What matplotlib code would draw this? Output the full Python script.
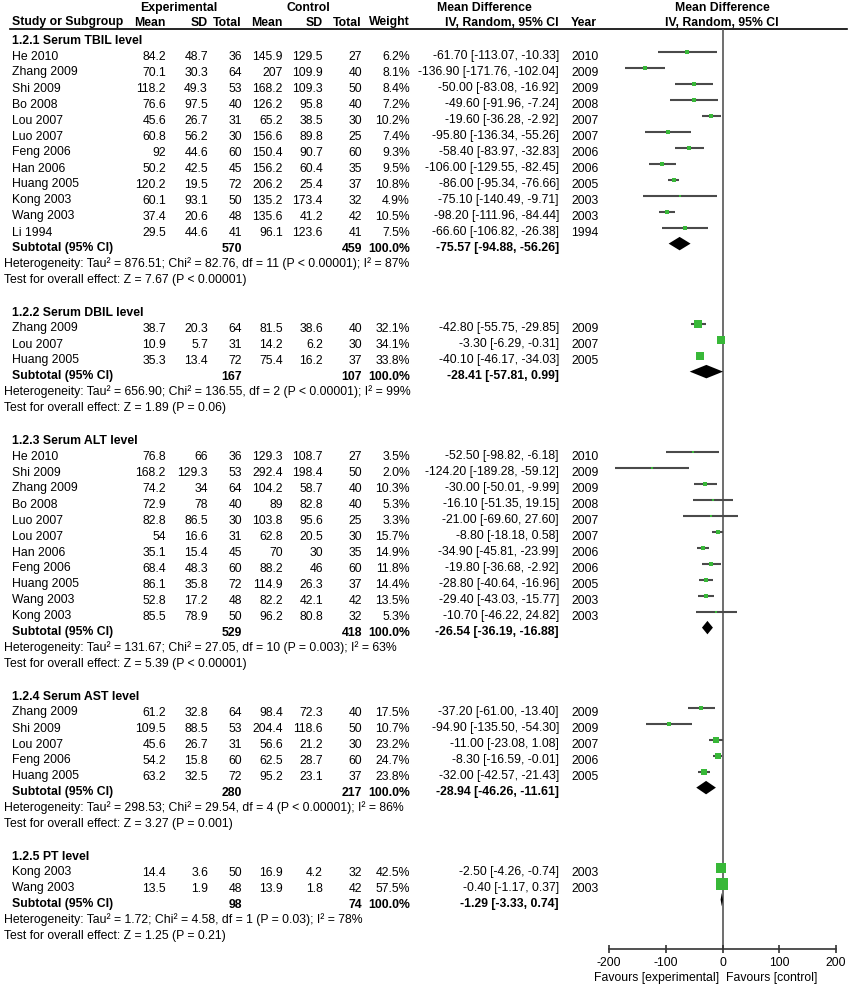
import matplotlib
matplotlib.use('Agg')
import matplotlib.pyplot as plt

plt.rcParams['font.family'] = ['Liberation Sans', 'DejaVu Sans']
plt.rcParams['font.size'] = 8.8
plt.rcParams['axes.unicode_minus'] = False

# ---- data -------------------------------------------------------------
group_titles = ['1.2.1 Serum TBIL level', '1.2.2 Serum DBIL level', '1.2.3 Serum ALT level',
                '1.2.4 Serum AST level', '1.2.5 PT level']
group = [0]*12 + [1]*3 + [2]*11 + [3]*5 + [4]*2
study = ['He 2010', 'Zhang 2009', 'Shi 2009', 'Bo 2008', 'Lou 2007', 'Luo 2007', 'Feng 2006',
         'Han 2006', 'Huang 2005', 'Kong 2003', 'Wang 2003', 'Li 1994',
         'Zhang 2009', 'Lou 2007', 'Huang 2005',
         'He 2010', 'Shi 2009', 'Zhang 2009', 'Bo 2008', 'Luo 2007', 'Lou 2007', 'Han 2006',
         'Feng 2006', 'Huang 2005', 'Wang 2003', 'Kong 2003',
         'Zhang 2009', 'Shi 2009', 'Lou 2007', 'Feng 2006', 'Huang 2005',
         'Kong 2003', 'Wang 2003']
exp_mean = [84.2, 70.1, 118.2, 76.6, 45.6, 60.8, 92, 50.2, 120.2, 60.1, 37.4, 29.5,
            38.7, 10.9, 35.3,
            76.8, 168.2, 74.2, 72.9, 82.8, 54, 35.1, 68.4, 86.1, 52.8, 85.5,
            61.2, 109.5, 45.6, 54.2, 63.2,
            14.4, 13.5]
exp_sd = [48.7, 30.3, 49.3, 97.5, 26.7, 56.2, 44.6, 42.5, 19.5, 93.1, 20.6, 44.6,
          20.3, 5.7, 13.4,
          66, 129.3, 34, 78, 86.5, 16.6, 15.4, 48.3, 35.8, 17.2, 78.9,
          32.8, 88.5, 26.7, 15.8, 32.5,
          3.6, 1.9]
exp_n = [36, 64, 53, 40, 31, 30, 60, 45, 72, 50, 48, 41,
         64, 31, 72,
         36, 53, 64, 40, 30, 31, 45, 60, 72, 48, 50,
         64, 53, 31, 60, 72,
         50, 48]
ctl_mean = [145.9, 207, 168.2, 126.2, 65.2, 156.6, 150.4, 156.2, 206.2, 135.2, 135.6, 96.1,
            81.5, 14.2, 75.4,
            129.3, 292.4, 104.2, 89, 103.8, 62.8, 70, 88.2, 114.9, 82.2, 96.2,
            98.4, 204.4, 56.6, 62.5, 95.2,
            16.9, 13.9]
ctl_sd = [129.5, 109.9, 109.3, 95.8, 38.5, 89.8, 90.7, 60.4, 25.4, 173.4, 41.2, 123.6,
          38.6, 6.2, 16.2,
          108.7, 198.4, 58.7, 82.8, 95.6, 20.5, 30, 46, 26.3, 42.1, 80.8,
          72.3, 118.6, 21.2, 28.7, 23.1,
          4.2, 1.8]
ctl_n = [27, 40, 50, 40, 30, 25, 60, 35, 37, 32, 42, 41,
         40, 30, 37,
         27, 50, 40, 40, 25, 30, 35, 60, 37, 42, 32,
         40, 50, 30, 60, 37,
         32, 42]
weight = [6.2, 8.1, 8.4, 7.2, 10.2, 7.4, 9.3, 9.5, 10.8, 4.9, 10.5, 7.5,
          32.1, 34.1, 33.8,
          3.5, 2.0, 10.3, 5.3, 3.3, 15.7, 14.9, 11.8, 14.4, 13.5, 5.3,
          17.5, 10.7, 23.2, 24.7, 23.8,
          42.5, 57.5]
md = [-61.70, -136.90, -50.00, -49.60, -19.60, -95.80, -58.40, -106.00, -86.00, -75.10, -98.20, -66.60,
      -42.80, -3.30, -40.10,
      -52.50, -124.20, -30.00, -16.10, -21.00, -8.80, -34.90, -19.80, -28.80, -29.40, -10.70,
      -37.20, -94.90, -11.00, -8.30, -32.00,
      -2.50, -0.40]
ci_lo = [-113.07, -171.76, -83.08, -91.96, -36.28, -136.34, -83.97, -129.55, -95.34, -140.49, -111.96, -106.82,
         -55.75, -6.29, -46.17,
         -98.82, -189.28, -50.01, -51.35, -69.60, -18.18, -45.81, -36.68, -40.64, -43.03, -46.22,
         -61.00, -135.50, -23.08, -16.59, -42.57,
         -4.26, -1.17]
ci_hi = [-10.33, -102.04, -16.92, -7.24, -2.92, -55.26, -32.83, -82.45, -76.66, -9.71, -84.44, -26.38,
         -29.85, -0.31, -34.03,
         -6.18, -59.12, -9.99, 19.15, 27.60, 0.58, -23.99, -2.92, -16.96, -15.77, 24.82,
         -13.40, -54.30, 1.08, -0.01, -21.43,
         -0.74, 0.37]
year = [2010, 2009, 2009, 2008, 2007, 2007, 2006, 2006, 2005, 2003, 2003, 1994,
        2009, 2007, 2005,
        2010, 2009, 2009, 2008, 2007, 2007, 2006, 2006, 2005, 2003, 2003,
        2009, 2009, 2007, 2006, 2005,
        2003, 2003]

sub_exp_n = [570, 167, 529, 280, 98]
sub_ctl_n = [459, 107, 418, 217, 74]
sub_md = [-75.57, -28.41, -26.54, -28.94, -1.29]
sub_lo = [-94.88, -57.81, -36.19, -46.26, -3.33]
sub_hi = [-56.26, 0.99, -16.88, -11.61, 0.74]
heterogeneity = [
    'Heterogeneity: Tau² = 876.51; Chi² = 82.76, df = 11 (P < 0.00001); I² = 87%',
    'Heterogeneity: Tau² = 656.90; Chi² = 136.55, df = 2 (P < 0.00001); I² = 99%',
    'Heterogeneity: Tau² = 131.67; Chi² = 27.05, df = 10 (P = 0.003); I² = 63%',
    'Heterogeneity: Tau² = 298.53; Chi² = 29.54, df = 4 (P < 0.00001); I² = 86%',
    'Heterogeneity: Tau² = 1.72; Chi² = 4.58, df = 1 (P = 0.03); I² = 78%']
overall = ['Test for overall effect: Z = 7.67 (P < 0.00001)',
           'Test for overall effect: Z = 1.89 (P = 0.06)',
           'Test for overall effect: Z = 5.39 (P < 0.00001)',
           'Test for overall effect: Z = 3.27 (P = 0.001)',
           'Test for overall effect: Z = 1.25 (P = 0.21)']
xticks = [-200, -100, 0, 100, 200]

# ---- layout -----------------------------------------------------------
W, H = 850, 987
PITCH, TOP = 16, 39.5


def row(px):
    return (px - TOP) / PITCH


fig = plt.figure(figsize=(W / 100, H / 100), dpi=100)
tx = fig.add_axes([0, 0, 1, 1])
tx.set_xlim(0, W)
tx.set_ylim(row(H), row(0))
tx.axis('off')

fx = fig.add_axes([609 / W, (H - 950) / H, 227 / W, (950 - 30) / H])
fx.set_xlim(-200, 200)
fx.set_ylim(row(950), row(30))
fx.patch.set_alpha(0)
for s in ['top', 'left', 'right']:
    fx.spines[s].set_visible(False)
fx.spines['bottom'].set_color('#333333')
fx.spines['bottom'].set_linewidth(1.2)
fx.set_yticks([])
fx.set_xticks(xticks)
fx.tick_params(axis='x', direction='inout', length=6, width=1.2, color='#333333', pad=2, labelsize=8.8)
fx.axvline(0, color='#555555', lw=1.2, zorder=1)

col_x = dict(exp_mean=166, exp_sd=208, exp_n=242, ctl_mean=283, ctl_sd=323, ctl_n=362, weight=410,
             ci=559, year=571)
BASE = 0.25   # text baseline offset (rows)
MARK = -0.18  # mark offset (rows)


def put(x, r, s, ha='right', bold=False):
    tx.text(x, r + BASE, s, ha=ha, va='baseline', fontweight='bold' if bold else 'normal')


# headers
hr1, hr2 = row(7), row(21.5)
put(179, hr1, 'Experimental', ha='center', bold=True)
put(308, hr1, 'Control', ha='center', bold=True)
put(484, hr1, 'Mean Difference', ha='center', bold=True)
put(722, hr1, 'Mean Difference', ha='center', bold=True)
put(12, hr2, 'Study or Subgroup', ha='left', bold=True)
for key, lab in [('exp_mean', 'Mean'), ('exp_sd', 'SD'), ('exp_n', 'Total'), ('ctl_mean', 'Mean'),
                 ('ctl_sd', 'SD'), ('ctl_n', 'Total'), ('weight', 'Weight'), ('ci', 'IV, Random, 95% CI')]:
    put(col_x[key], hr2, lab, bold=True)
put(571, hr2, 'Year', ha='left', bold=True)
put(722, hr2, 'IV, Random, 95% CI', ha='center', bold=True)
tx.plot([10, 847], [row(30)] * 2, color='black', lw=1.2)

r = 0
for g, title in enumerate(group_titles):
    put(12, r, title, ha='left', bold=True)
    r += 1
    for i in [k for k in range(len(study)) if group[k] == g]:
        put(12, r, study[i], ha='left')
        put(col_x['exp_mean'], r, f'{exp_mean[i]:g}')
        put(col_x['exp_sd'], r, f'{exp_sd[i]:g}')
        put(col_x['exp_n'], r, f'{exp_n[i]}')
        put(col_x['ctl_mean'], r, f'{ctl_mean[i]:g}')
        put(col_x['ctl_sd'], r, f'{ctl_sd[i]:g}')
        put(col_x['ctl_n'], r, f'{ctl_n[i]}')
        put(col_x['weight'], r, f'{weight[i]:.1f}%')
        put(col_x['ci'], r, f'{md[i]:.2f} [{ci_lo[i]:.2f}, {ci_hi[i]:.2f}]')
        put(col_x['year'], r, f'{year[i]}', ha='left')
        y = r + MARK
        fx.plot([ci_lo[i], ci_hi[i]], [y, y], color='#4a4a4a', lw=1.5, solid_capstyle='butt', zorder=2)
        side = 2 + 0.17 * weight[i]
        fx.plot(md[i], y, 's', color='#38b838', mec='#38b838', ms=side * 0.72, mew=0, zorder=3)
        r += 1
    put(12, r, 'Subtotal (95% CI)', ha='left', bold=True)
    put(col_x['exp_n'], r, f'{sub_exp_n[g]}', bold=True)
    put(col_x['ctl_n'], r, f'{sub_ctl_n[g]}', bold=True)
    put(col_x['weight'], r, '100.0%', bold=True)
    put(col_x['ci'], r, f'{sub_md[g]:.2f} [{sub_lo[g]:.2f}, {sub_hi[g]:.2f}]', bold=True)
    y, h = r + MARK, 0.42
    fx.fill([sub_lo[g], sub_md[g], sub_hi[g], sub_md[g]], [y, y - h, y, y + h], color='black', lw=0, zorder=3)
    r += 1
    put(4, r, heterogeneity[g], ha='left')
    r += 1
    put(4, r, overall[g], ha='left')
    r += 2

put(657, row(977.5), 'Favours [experimental]', ha='center')
put(772, row(977.5), 'Favours [control]', ha='center')

fig.savefig('out.png', dpi=100)
